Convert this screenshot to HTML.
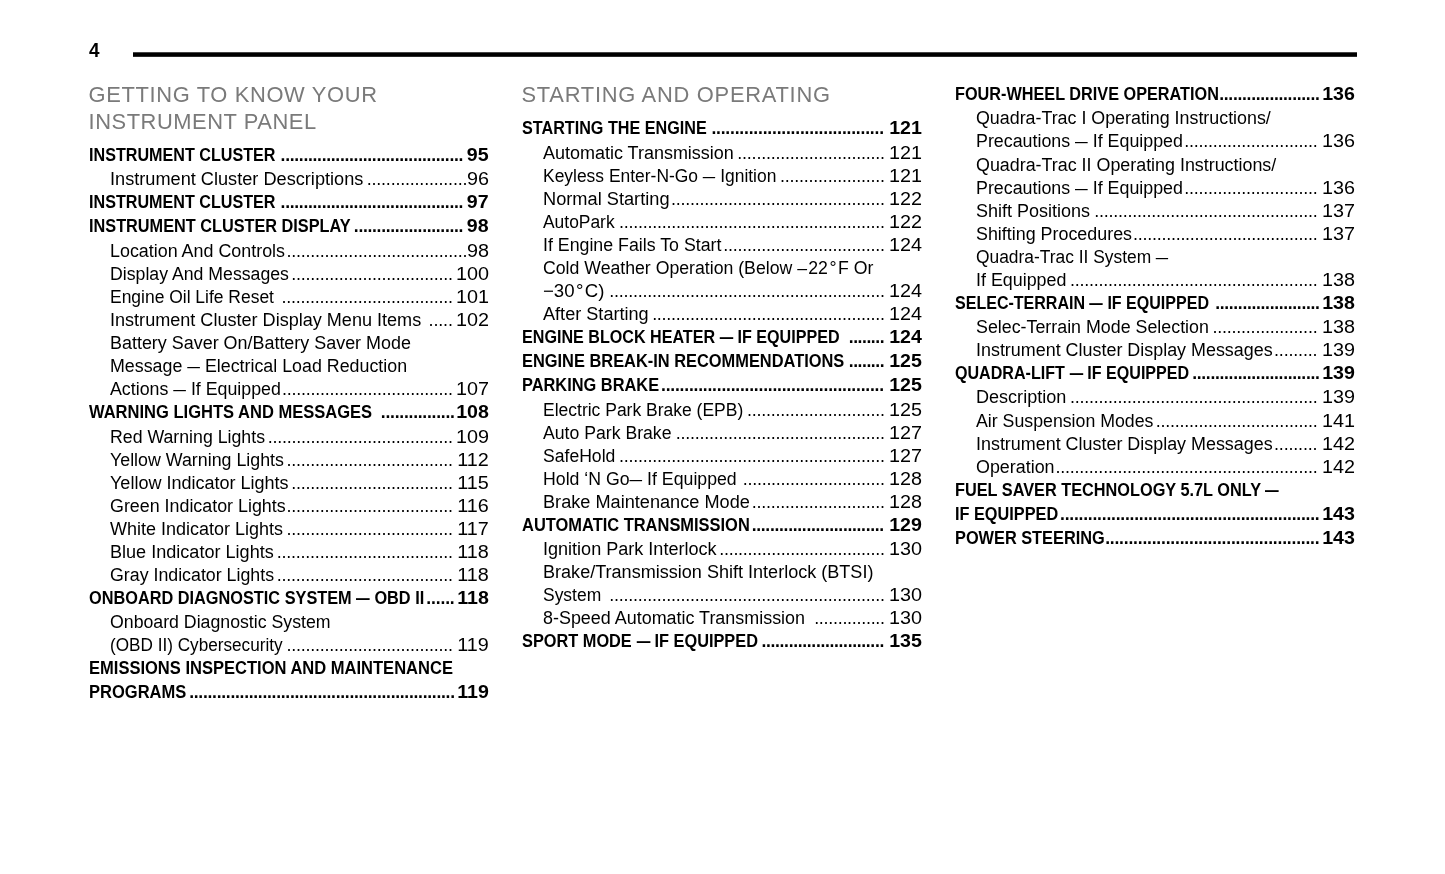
<!DOCTYPE html>
<html><head><meta charset="utf-8"><title>Contents</title>
<style>
html,body{margin:0;padding:0;background:#fff;}
body{will-change:transform;width:1445px;height:874px;position:relative;overflow:hidden;font-family:"Liberation Sans",sans-serif;color:#000;}
.r{position:absolute;height:24px;line-height:24px;white-space:nowrap;}
.n{font-size:18px;font-weight:normal;}
.b{font-size:18.5px;font-weight:bold;}
.l{position:absolute;left:0;top:0;display:inline-block;transform-origin:0 50%;white-space:pre;}
.d{position:absolute;top:0;text-align:right;white-space:nowrap;}
.p{position:absolute;right:0;top:0;display:inline-block;transform-origin:100% 50%;}
.e{display:inline-block;width:12.8px;vertical-align:baseline;white-space:nowrap;}
.e span{display:inline-block;transform:scaleX(.711);transform-origin:0 50%;}
.b .d{font-size:17.5px;}
.b .e{width:15.5px;}
.b .e span{transform:scaleX(.837);}
.h{position:absolute;font-size:21.9px;color:#7a7a7a;white-space:nowrap;line-height:27px;height:27px;}
.pg{position:absolute;left:89.1px;font-size:19.9px;font-weight:bold;line-height:24px;height:24px;transform:scaleX(.95);transform-origin:0 50%;}
.rule{position:absolute;left:133px;top:52px;width:1224px;height:5px;background:linear-gradient(#474747 0,#474747 1px,#000 1px,#000 4px,#2b2b2b 4px,#2b2b2b 5px);}
</style></head><body>

<div class="pg" style="top:38px;">4</div>
<div class="rule"></div>
<div class="h" style="left:88.5px;top:81px;letter-spacing:0.65px;">GETTING TO KNOW YOUR</div>
<div class="h" style="left:88.5px;top:108px;letter-spacing:0.55px;">INSTRUMENT PANEL</div>
<div class="h" style="left:521.5px;top:81px;letter-spacing:0.73px;">STARTING AND OPERATING</div>
<div class="r b" style="left:89.0px;top:143px;width:400.0px;"><span class="l" style="transform:scaleX(0.8723);">INSTRUMENT CLUSTER</span><span class="d" style="right:25.87px;letter-spacing:-0.298px;">........................................</span><span class="p" style="transform:scaleX(1.060);">95</span></div>
<div class="r n" style="left:109.7px;top:167px;width:379.4px;"><span class="l" style="transform:scaleX(1.0090);">Instrument Cluster Descriptions</span><span class="d" style="right:21.79px;letter-spacing:-0.210px;">.....................</span><span class="p" style="transform:scaleX(1.100);">96</span></div>
<div class="r b" style="left:89.0px;top:190px;width:400.0px;"><span class="l" style="transform:scaleX(0.8723);">INSTRUMENT CLUSTER</span><span class="d" style="right:25.87px;letter-spacing:-0.298px;">........................................</span><span class="p" style="transform:scaleX(1.060);">97</span></div>
<div class="r b" style="left:89.0px;top:214px;width:400.0px;"><span class="l" style="transform:scaleX(0.8797);">INSTRUMENT CLUSTER DISPLAY</span><span class="d" style="right:25.86px;letter-spacing:-0.308px;">........................</span><span class="p" style="transform:scaleX(1.060);">98</span></div>
<div class="r n" style="left:109.7px;top:239px;width:379.4px;"><span class="l" style="transform:scaleX(0.9938);">Location And Controls</span><span class="d" style="right:21.76px;letter-spacing:-0.243px;">......................................</span><span class="p" style="transform:scaleX(1.100);">98</span></div>
<div class="r n" style="left:109.7px;top:262px;width:379.4px;"><span class="l" style="transform:scaleX(0.9827);">Display And Messages</span><span class="d" style="right:36.25px;letter-spacing:-0.248px;">..................................</span><span class="p" style="transform:scaleX(1.100);">100</span></div>
<div class="r n" style="left:109.7px;top:285px;width:379.4px;"><span class="l" style="transform:scaleX(0.9696);">Engine Oil Life Reset</span><span class="d" style="right:36.26px;letter-spacing:-0.243px;">....................................</span><span class="p" style="transform:scaleX(1.100);">101</span></div>
<div class="r n" style="left:109.7px;top:308px;width:379.4px;"><span class="l" style="transform:scaleX(1.0035);">Instrument Cluster Display Menu Items</span><span class="d" style="right:36.33px;letter-spacing:-0.175px;">.....</span><span class="p" style="transform:scaleX(1.100);">102</span></div>
<div class="r n" style="left:109.7px;top:331px;width:379.4px;"><span class="l" style="transform:scaleX(0.9959);">Battery Saver On/Battery Saver Mode</span></div>
<div class="r n" style="left:109.7px;top:354px;width:379.4px;"><span class="l" style="transform:scaleX(0.9903);">Message <span class="e"><span>—</span></span> Electrical Load Reduction</span></div>
<div class="r n" style="left:109.7px;top:377px;width:379.4px;"><span class="l" style="transform:scaleX(0.9884);">Actions <span class="e"><span>—</span></span> If Equipped</span><span class="d" style="right:36.24px;letter-spacing:-0.257px;">....................................</span><span class="p" style="transform:scaleX(1.100);">107</span></div>
<div class="r b" style="left:89.0px;top:400px;width:400.0px;"><span class="l" style="transform:scaleX(0.8934);">WARNING LIGHTS AND MESSAGES</span><span class="d" style="right:34.32px;letter-spacing:-0.245px;">................</span><span class="p" style="transform:scaleX(1.060);">108</span></div>
<div class="r n" style="left:109.7px;top:425px;width:379.4px;"><span class="l" style="transform:scaleX(0.9846);">Red Warning Lights</span><span class="d" style="right:36.25px;letter-spacing:-0.253px;">.......................................</span><span class="p" style="transform:scaleX(1.100);">109</span></div>
<div class="r n" style="left:109.7px;top:448px;width:379.4px;"><span class="l" style="transform:scaleX(0.9895);">Yellow Warning Lights</span><span class="d" style="right:36.25px;letter-spacing:-0.250px;">...................................</span><span class="p" style="transform:scaleX(1.100);">112</span></div>
<div class="r n" style="left:109.7px;top:471px;width:379.4px;"><span class="l" style="transform:scaleX(1.0010);">Yellow Indicator Lights</span><span class="d" style="right:36.25px;letter-spacing:-0.248px;">..................................</span><span class="p" style="transform:scaleX(1.100);">115</span></div>
<div class="r n" style="left:109.7px;top:494px;width:379.4px;"><span class="l" style="transform:scaleX(0.9917);">Green Indicator Lights</span><span class="d" style="right:36.25px;letter-spacing:-0.250px;">...................................</span><span class="p" style="transform:scaleX(1.100);">116</span></div>
<div class="r n" style="left:109.7px;top:517px;width:379.4px;"><span class="l" style="transform:scaleX(0.9995);">White Indicator Lights</span><span class="d" style="right:36.25px;letter-spacing:-0.250px;">...................................</span><span class="p" style="transform:scaleX(1.100);">117</span></div>
<div class="r n" style="left:109.7px;top:540px;width:379.4px;"><span class="l" style="transform:scaleX(1.0039);">Blue Indicator Lights</span><span class="d" style="right:36.26px;letter-spacing:-0.244px;">.....................................</span><span class="p" style="transform:scaleX(1.100);">118</span></div>
<div class="r n" style="left:109.7px;top:563px;width:379.4px;"><span class="l" style="transform:scaleX(0.9876);">Gray Indicator Lights</span><span class="d" style="right:36.26px;letter-spacing:-0.244px;">.....................................</span><span class="p" style="transform:scaleX(1.100);">118</span></div>
<div class="r b" style="left:89.0px;top:586px;width:400.0px;"><span class="l" style="transform:scaleX(0.8813);">ONBOARD DIAGNOSTIC SYSTEM <span class="e"><span>—</span></span> OBD II</span><span class="d" style="right:34.42px;letter-spacing:-0.145px;">......</span><span class="p" style="transform:scaleX(1.060);">118</span></div>
<div class="r n" style="left:109.7px;top:610px;width:379.4px;"><span class="l" style="transform:scaleX(0.9841);">Onboard Diagnostic System</span></div>
<div class="r n" style="left:109.7px;top:633px;width:379.4px;"><span class="l" style="transform:scaleX(0.9531);">(OBD II) Cybersecurity</span><span class="d" style="right:36.25px;letter-spacing:-0.250px;">...................................</span><span class="p" style="transform:scaleX(1.100);">119</span></div>
<div class="r b" style="left:89.0px;top:656px;width:400.0px;"><span class="l" style="transform:scaleX(0.8933);">EMISSIONS INSPECTION AND MAINTENANCE</span></div>
<div class="r b" style="left:89.0px;top:680px;width:400.0px;"><span class="l" style="transform:scaleX(0.8929);">PROGRAMS</span><span class="d" style="right:34.28px;letter-spacing:-0.284px;">..........................................................</span><span class="p" style="transform:scaleX(1.060);">119</span></div>
<div class="r b" style="left:522.0px;top:116px;width:400.0px;"><span class="l" style="transform:scaleX(0.8738);">STARTING THE ENGINE</span><span class="d" style="right:38.17px;letter-spacing:-0.201px;">.....................................</span><span class="p" style="transform:scaleX(1.060);">121</span></div>
<div class="r n" style="left:542.6px;top:141px;width:379.4px;"><span class="l" style="transform:scaleX(0.9988);">Automatic Transmission</span><span class="d" style="right:37.25px;letter-spacing:-0.247px;">...............................</span><span class="p" style="transform:scaleX(1.100);">121</span></div>
<div class="r n" style="left:542.6px;top:164px;width:379.4px;"><span class="l" style="transform:scaleX(0.9688);">Keyless Enter-N-Go <span class="e"><span>—</span></span> Ignition</span><span class="d" style="right:37.26px;letter-spacing:-0.243px;">......................</span><span class="p" style="transform:scaleX(1.100);">121</span></div>
<div class="r n" style="left:542.6px;top:187px;width:379.4px;"><span class="l" style="transform:scaleX(1.0118);">Normal Starting</span><span class="d" style="right:37.25px;letter-spacing:-0.250px;">.............................................</span><span class="p" style="transform:scaleX(1.100);">122</span></div>
<div class="r n" style="left:542.6px;top:210px;width:379.4px;"><span class="l" style="transform:scaleX(0.9672);">AutoPark</span><span class="d" style="right:37.25px;letter-spacing:-0.255px;">........................................................</span><span class="p" style="transform:scaleX(1.100);">122</span></div>
<div class="r n" style="left:542.6px;top:233px;width:379.4px;"><span class="l" style="transform:scaleX(0.9871);">If Engine Fails To Start</span><span class="d" style="right:37.25px;letter-spacing:-0.252px;">..................................</span><span class="p" style="transform:scaleX(1.100);">124</span></div>
<div class="r n" style="left:542.6px;top:256px;width:379.4px;"><span class="l" style="transform:scaleX(0.9821);">Cold Weather Operation (Below –<span style="margin:0 1.6px 0 1.2px">22</span>°<span style="margin-left:1.6px">F</span> Or</span></div>
<div class="r n" style="left:542.6px;top:279px;width:379.4px;"><span class="l" style="transform:scaleX(1.0337);">−30<span style="margin:0 1.3px">°</span>C)</span><span class="d" style="right:37.25px;letter-spacing:-0.251px;">..........................................................</span><span class="p" style="transform:scaleX(1.100);">124</span></div>
<div class="r n" style="left:542.6px;top:302px;width:379.4px;"><span class="l" style="transform:scaleX(1.0061);">After Starting</span><span class="d" style="right:37.25px;letter-spacing:-0.254px;">.................................................</span><span class="p" style="transform:scaleX(1.100);">124</span></div>
<div class="r b" style="left:522.0px;top:325px;width:400.0px;"><span class="l" style="transform:scaleX(0.8709);">ENGINE BLOCK HEATER <span class="e"><span>—</span></span> IF EQUIPPED</span><span class="d" style="right:37.92px;letter-spacing:-0.451px;">........</span><span class="p" style="transform:scaleX(1.060);">124</span></div>
<div class="r b" style="left:522.0px;top:349px;width:400.0px;"><span class="l" style="transform:scaleX(0.8866);">ENGINE BREAK-IN RECOMMENDATIONS</span><span class="d" style="right:37.92px;letter-spacing:-0.451px;">........</span><span class="p" style="transform:scaleX(1.060);">125</span></div>
<div class="r b" style="left:522.0px;top:373px;width:400.0px;"><span class="l" style="transform:scaleX(0.8850);">PARKING BRAKE</span><span class="d" style="right:38.15px;letter-spacing:-0.220px;">................................................</span><span class="p" style="transform:scaleX(1.060);">125</span></div>
<div class="r n" style="left:542.6px;top:398px;width:379.4px;"><span class="l" style="transform:scaleX(0.9719);">Electric Park Brake (EPB)</span><span class="d" style="right:37.25px;letter-spacing:-0.254px;">.............................</span><span class="p" style="transform:scaleX(1.100);">125</span></div>
<div class="r n" style="left:542.6px;top:421px;width:379.4px;"><span class="l" style="transform:scaleX(0.9802);">Auto Park Brake</span><span class="d" style="right:37.25px;letter-spacing:-0.249px;">............................................</span><span class="p" style="transform:scaleX(1.100);">127</span></div>
<div class="r n" style="left:542.6px;top:444px;width:379.4px;"><span class="l" style="transform:scaleX(0.9769);">SafeHold</span><span class="d" style="right:37.25px;letter-spacing:-0.255px;">........................................................</span><span class="p" style="transform:scaleX(1.100);">127</span></div>
<div class="r n" style="left:542.6px;top:467px;width:379.4px;"><span class="l" style="transform:scaleX(0.9838);">Hold ‘N Go<span class="e"><span>—</span></span> If Equipped</span><span class="d" style="right:37.23px;letter-spacing:-0.266px;">..............................</span><span class="p" style="transform:scaleX(1.100);">128</span></div>
<div class="r n" style="left:542.6px;top:490px;width:379.4px;"><span class="l" style="transform:scaleX(1.0083);">Brake Maintenance Mode</span><span class="d" style="right:37.25px;letter-spacing:-0.252px;">............................</span><span class="p" style="transform:scaleX(1.100);">128</span></div>
<div class="r b" style="left:522.0px;top:513px;width:400.0px;"><span class="l" style="transform:scaleX(0.8889);">AUTOMATIC TRANSMISSION</span><span class="d" style="right:38.07px;letter-spacing:-0.301px;">.............................</span><span class="p" style="transform:scaleX(1.060);">129</span></div>
<div class="r n" style="left:542.6px;top:537px;width:379.4px;"><span class="l" style="transform:scaleX(1.0027);">Ignition Park Interlock</span><span class="d" style="right:37.23px;letter-spacing:-0.271px;">...................................</span><span class="p" style="transform:scaleX(1.100);">130</span></div>
<div class="r n" style="left:542.6px;top:560px;width:379.4px;"><span class="l" style="transform:scaleX(1.0031);">Brake/Transmission Shift Interlock (BTSI)</span></div>
<div class="r n" style="left:542.6px;top:583px;width:379.4px;"><span class="l" style="transform:scaleX(0.9694);">System</span><span class="d" style="right:37.25px;letter-spacing:-0.251px;">..........................................................</span><span class="p" style="transform:scaleX(1.100);">130</span></div>
<div class="r n" style="left:542.6px;top:606px;width:379.4px;"><span class="l" style="transform:scaleX(0.9958);">8-Speed Automatic Transmission</span><span class="d" style="right:37.21px;letter-spacing:-0.293px;">...............</span><span class="p" style="transform:scaleX(1.100);">130</span></div>
<div class="r b" style="left:522.0px;top:629px;width:400.0px;"><span class="l" style="transform:scaleX(0.8825);">SPORT MODE <span class="e"><span>—</span></span> IF EQUIPPED</span><span class="d" style="right:38.04px;letter-spacing:-0.323px;">...........................</span><span class="p" style="transform:scaleX(1.060);">135</span></div>
<div class="r b" style="left:955.0px;top:82px;width:400.0px;"><span class="l" style="transform:scaleX(0.8782);">FOUR-WHEEL DRIVE OPERATION</span><span class="d" style="right:35.46px;letter-spacing:-0.303px;">......................</span><span class="p" style="transform:scaleX(1.060);">136</span></div>
<div class="r n" style="left:975.6px;top:106px;width:379.4px;"><span class="l" style="transform:scaleX(0.9910);">Quadra-Trac I Operating Instructions/</span></div>
<div class="r n" style="left:975.6px;top:129px;width:379.4px;"><span class="l" style="transform:scaleX(0.9904);">Precautions <span class="e"><span>—</span></span> If Equipped</span><span class="d" style="right:37.56px;letter-spacing:-0.244px;">............................</span><span class="p" style="transform:scaleX(1.100);">136</span></div>
<div class="r n" style="left:975.6px;top:153px;width:379.4px;"><span class="l" style="transform:scaleX(0.9927);">Quadra-Trac II Operating Instructions/</span></div>
<div class="r n" style="left:975.6px;top:176px;width:379.4px;"><span class="l" style="transform:scaleX(0.9904);">Precautions <span class="e"><span>—</span></span> If Equipped</span><span class="d" style="right:37.56px;letter-spacing:-0.244px;">............................</span><span class="p" style="transform:scaleX(1.100);">136</span></div>
<div class="r n" style="left:975.6px;top:199px;width:379.4px;"><span class="l" style="transform:scaleX(0.9997);">Shift Positions</span><span class="d" style="right:37.55px;letter-spacing:-0.252px;">...............................................</span><span class="p" style="transform:scaleX(1.100);">137</span></div>
<div class="r n" style="left:975.6px;top:222px;width:379.4px;"><span class="l" style="transform:scaleX(0.9932);">Shifting Procedures</span><span class="d" style="right:37.53px;letter-spacing:-0.274px;">.......................................</span><span class="p" style="transform:scaleX(1.100);">137</span></div>
<div class="r n" style="left:975.6px;top:245px;width:379.4px;"><span class="l" style="transform:scaleX(0.9659);">Quadra-Trac II System <span class="e"><span>—</span></span></span></div>
<div class="r n" style="left:975.6px;top:268px;width:379.4px;"><span class="l" style="transform:scaleX(0.9932);">If Equipped</span><span class="d" style="right:37.56px;letter-spacing:-0.241px;">....................................................</span><span class="p" style="transform:scaleX(1.100);">138</span></div>
<div class="r b" style="left:955.0px;top:291px;width:400.0px;"><span class="l" style="transform:scaleX(0.8667);">SELEC-TERRAIN <span class="e"><span>—</span></span> IF EQUIPPED</span><span class="d" style="right:35.44px;letter-spacing:-0.324px;">.......................</span><span class="p" style="transform:scaleX(1.060);">138</span></div>
<div class="r n" style="left:975.6px;top:315px;width:379.4px;"><span class="l" style="transform:scaleX(0.9905);">Selec-Terrain Mode Selection</span><span class="d" style="right:37.57px;letter-spacing:-0.229px;">......................</span><span class="p" style="transform:scaleX(1.100);">138</span></div>
<div class="r n" style="left:975.6px;top:338px;width:379.4px;"><span class="l" style="transform:scaleX(0.9952);">Instrument Cluster Display Messages</span><span class="d" style="right:37.61px;letter-spacing:-0.187px;">.........</span><span class="p" style="transform:scaleX(1.100);">139</span></div>
<div class="r b" style="left:955.0px;top:361px;width:400.0px;"><span class="l" style="transform:scaleX(0.8693);">QUADRA-LIFT <span class="e"><span>—</span></span> IF EQUIPPED</span><span class="d" style="right:35.45px;letter-spacing:-0.313px;">............................</span><span class="p" style="transform:scaleX(1.060);">139</span></div>
<div class="r n" style="left:975.6px;top:385px;width:379.4px;"><span class="l" style="transform:scaleX(1.0028);">Description</span><span class="d" style="right:37.56px;letter-spacing:-0.241px;">....................................................</span><span class="p" style="transform:scaleX(1.100);">139</span></div>
<div class="r n" style="left:975.6px;top:409px;width:379.4px;"><span class="l" style="transform:scaleX(0.9851);">Air Suspension Modes</span><span class="d" style="right:37.55px;letter-spacing:-0.245px;">..................................</span><span class="p" style="transform:scaleX(1.100);">141</span></div>
<div class="r n" style="left:975.6px;top:432px;width:379.4px;"><span class="l" style="transform:scaleX(0.9952);">Instrument Cluster Display Messages</span><span class="d" style="right:37.61px;letter-spacing:-0.187px;">.........</span><span class="p" style="transform:scaleX(1.100);">142</span></div>
<div class="r n" style="left:975.6px;top:455px;width:379.4px;"><span class="l" style="transform:scaleX(0.9933);">Operation</span><span class="d" style="right:37.56px;letter-spacing:-0.239px;">.......................................................</span><span class="p" style="transform:scaleX(1.100);">142</span></div>
<div class="r b" style="left:955.0px;top:478px;width:400.0px;"><span class="l" style="transform:scaleX(0.8808);">FUEL SAVER TECHNOLOGY 5.7L ONLY <span class="e"><span>—</span></span></span></div>
<div class="r b" style="left:955.0px;top:502px;width:400.0px;"><span class="l" style="transform:scaleX(0.8802);">IF EQUIPPED</span><span class="d" style="right:35.54px;letter-spacing:-0.230px;">........................................................</span><span class="p" style="transform:scaleX(1.060);">143</span></div>
<div class="r b" style="left:955.0px;top:526px;width:400.0px;"><span class="l" style="transform:scaleX(0.8827);">POWER STEERING</span><span class="d" style="right:35.56px;letter-spacing:-0.203px;">..............................................</span><span class="p" style="transform:scaleX(1.060);">143</span></div>
</body></html>
